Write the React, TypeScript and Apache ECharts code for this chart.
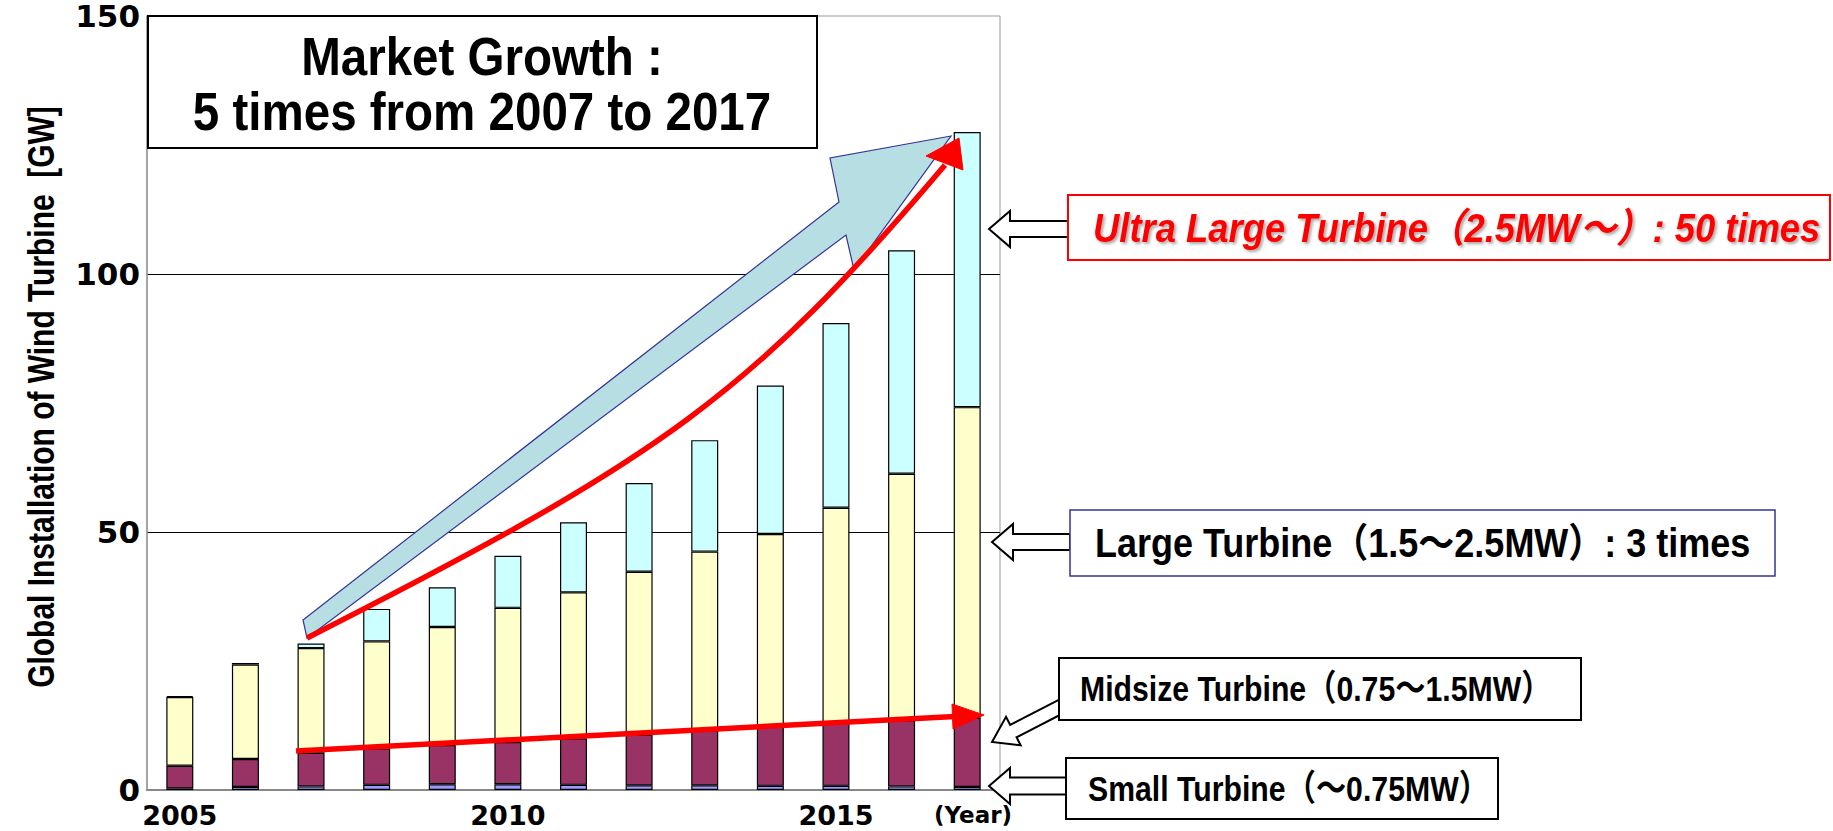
import React, { useEffect, useRef } from "react";
import * as echarts from "echarts";

const years = ["2005", "2006", "2007", "2008", "2009", "2010", "2011", "2012", "2013", "2014", "2015", "2016", "2017"];
const smallTurbine = [0.3, 0.6, 0.7, 1.0, 1.1, 1.1, 1.0, 0.9, 0.9, 0.8, 0.8, 0.7, 0.6];
const midsizeTurbine = [4.4, 5.4, 6.5, 7.1, 7.6, 8.2, 9.0, 9.8, 10.6, 11.6, 12.3, 12.8, 13.4];
const largeTurbine = [13.3, 18.3, 20.3, 20.7, 22.9, 26.0, 28.3, 31.6, 34.7, 37.2, 41.6, 47.8, 60.2];
const ultraLargeTurbine = [0.2, 0.3, 0.9, 6.3, 7.7, 10.1, 13.6, 17.2, 21.6, 28.8, 35.8, 43.3, 53.3];
const yMax = 150;
const yStep = 50;

const titleLines = ["Market Growth :", "5 times from 2007 to 2017"];
const yTitle = "Global Installation of Wind Turbine  [GW]";
const ultraLabel = "Ultra Large Turbine（2.5MW～）: 50 times";
const largeLabel = "Large Turbine（1.5～2.5MW）: 3 times";
const midLabel = "Midsize Turbine（0.75～1.5MW）";
const smallLabel = "Small Turbine（～0.75MW）";
const yearLabel = "(Year)";

const SANS = '"Liberation Sans", Arial, "Noto Sans CJK JP", sans-serif';
const WIDE = '"DejaVu Sans", Verdana, sans-serif';

function txt(x: number, y: number, text: string, opts: any = {}) {
  const {
    align = "center",
    size = 32,
    family = SANS,
    color = "#000",
    italic = false,
    rotation = 0,
    scaleX = 1,
    extra = {},
  } = opts;
  return {
    type: "text",
    x,
    y,
    rotation,
    scaleX,
    z: 120,
    style: {
      text,
      fill: color,
      fontSize: size,
      fontFamily: family,
      fontWeight: "bold",
      fontStyle: italic ? "italic" : "normal",
      align,
      verticalAlign: "middle",
      textAlign: align,
      textVerticalAlign: "middle",
      ...extra,
    },
  };
}

function box(x: number, y: number, w: number, h: number, stroke: string, lw = 2) {
  return {
    type: "rect",
    z: 110,
    shape: { x, y, width: w, height: h },
    style: { fill: "#fff", stroke, lineWidth: lw },
  };
}

function leftArrow(tipX: number, cy: number, headBack: number, tailX: number, headHalf: number, shaftHalf: number) {
  return {
    type: "polygon",
    z: 105,
    shape: {
      points: [
        [tipX, cy],
        [headBack, cy - headHalf],
        [headBack, cy - shaftHalf],
        [tailX, cy - shaftHalf],
        [tailX, cy + shaftHalf],
        [headBack, cy + shaftHalf],
        [headBack, cy + headHalf],
      ],
    },
    style: { fill: "#fff", stroke: "#000", lineWidth: 2 },
  };
}

export default function App() {
  const ref = useRef<HTMLDivElement>(null);
  useEffect(() => {
    document.body.style.margin = "0";
    if (!ref.current) return;
    const chart = echarts.init(ref.current, null, { renderer: "svg" });

    const barStyle = (color: string) => ({ color, borderColor: "#000", borderWidth: 1.2 });

    // midsize block arrow (diagonal)
    const tip = [992, 742];
    const tail = [1062, 706];
    const dx = tip[0] - tail[0];
    const dy = tip[1] - tail[1];
    const len = Math.hypot(dx, dy);
    const ux = dx / len, uy = dy / len;
    const nx = -uy, ny = ux;
    const hb = [tip[0] - 24 * ux, tip[1] - 24 * uy];
    const midArrowPts = [
      tip,
      [hb[0] + 16 * nx, hb[1] + 16 * ny],
      [hb[0] + 7 * nx, hb[1] + 7 * ny],
      [tail[0] + 7 * nx, tail[1] + 7 * ny],
      [tail[0] - 7 * nx, tail[1] - 7 * ny],
      [hb[0] - 7 * nx, hb[1] - 7 * ny],
      [hb[0] - 16 * nx, hb[1] - 16 * ny],
    ];

    const option: any = {
      animation: false,
      backgroundColor: "#fff",
      grid: {
        left: 147,
        right: 833,
        top: 16,
        bottom: 41,
        show: true,
        borderColor: "#999",
        borderWidth: 1,
        backgroundColor: "#fff",
      },
      xAxis: {
        type: "category",
        data: years,
        axisTick: { show: false },
        axisLine: { show: true, lineStyle: { color: "#888", width: 2 } },
        axisLabel: {
          interval: 4,
          color: "#000",
          fontFamily: WIDE,
          fontWeight: "bold",
          fontSize: 27,
          lineHeight: 26,
          margin: 12,
        },
      },
      yAxis: {
        type: "value",
        min: 0,
        max: yMax,
        interval: yStep,
        axisLine: { show: true, lineStyle: { color: "#999", width: 1.5 } },
        axisTick: { show: false },
        splitLine: {
          show: true,
          lineStyle: { color: ["rgba(0,0,0,0)", "#000", "#000", "rgba(0,0,0,0)"], width: 1.2 },
        },
        axisLabel: {
          color: "#000",
          fontFamily: WIDE,
          fontWeight: "bold",
          fontSize: 31,
          lineHeight: 24,
          margin: 7,
          padding: [3, 0, 0, 0],
        },
      },
      series: [
        { name: "Small", type: "bar", stack: "t", barWidth: 27, data: smallTurbine, itemStyle: barStyle("#9999ff") },
        { name: "Midsize", type: "bar", stack: "t", barWidth: 27, data: midsizeTurbine, itemStyle: barStyle("#993366") },
        { name: "Large", type: "bar", stack: "t", barWidth: 27, data: largeTurbine, itemStyle: barStyle("#ffffcc") },
        { name: "Ultra", type: "bar", stack: "t", barWidth: 27, data: ultraLargeTurbine, itemStyle: barStyle("#ccffff") },
      ],
      graphic: [
        // y axis title
        txt(41, 397, yTitle, { size: 37, scaleX: 0.81, rotation: Math.PI / 2 }),
        // year label
        txt(973, 815, yearLabel, { size: 23, family: WIDE }),
        // title box
        box(148, 16, 669, 132, "#000", 2),
        txt(482, 56, titleLines[0], { size: 54, scaleX: 0.88 }),
        txt(482, 111, titleLines[1], { size: 54, scaleX: 0.88 }),
        // blue growth arrow
        {
          type: "polygon",
          z: 100,
          shape: {
            points: [
              [303, 620],
              [839, 202],
              [830, 158],
              [951, 136],
              [854, 270],
              [846, 235],
              [307, 638],
            ],
          },
          style: { fill: "#b7dfe3", stroke: "#333399", lineWidth: 1.2 },
        },
        // red curved arrow
        {
          type: "bezierCurve",
          z: 101,
          shape: { x1: 307, y1: 638, cpx1: 664, cpy1: 457, cpx2: 751, cpy2: 394, x2: 945, y2: 165 },
          style: { stroke: "#ff0000", lineWidth: 5.5, fill: null },
        },
        {
          type: "polygon",
          z: 101,
          shape: { points: [[959, 138], [926, 156], [963, 170]] },
          style: { fill: "#ff0000", stroke: "#ff0000", lineWidth: 1 },
        },
        // red straight arrow
        {
          type: "line",
          z: 101,
          shape: { x1: 296, y1: 751, x2: 955, y2: 716.5 },
          style: { stroke: "#ff0000", lineWidth: 5.5 },
        },
        {
          type: "polygon",
          z: 101,
          shape: { points: [[984, 715], [952, 704], [953, 729]] },
          style: { fill: "#ff0000", stroke: "#ff0000", lineWidth: 1 },
        },
        // ultra callout
        leftArrow(989, 229, 1010, 1068, 18, 8),
        box(1068, 195, 762, 65, "#ff0000", 2),
        txt(1093, 228, ultraLabel, {
          align: "left",
          size: 40,
          scaleX: 0.91,
          color: "#ff0000",
          italic: true,
          extra: { textShadowColor: "rgba(0,0,0,0.35)", textShadowBlur: 3, textShadowOffsetX: 2, textShadowOffsetY: 2 },
        }),
        // large callout
        leftArrow(992, 542, 1013, 1070, 18, 8),
        box(1070, 510, 705, 66, "#333399", 1.5),
        txt(1095, 543, largeLabel, { align: "left", size: 40, scaleX: 0.9 }),
        // midsize callout
        {
          type: "polygon",
          z: 105,
          shape: { points: midArrowPts },
          style: { fill: "#fff", stroke: "#000", lineWidth: 2 },
        },
        box(1059, 658, 522, 62, "#000", 2),
        txt(1080, 689, midLabel, { align: "left", size: 36, scaleX: 0.84 }),
        // small callout
        leftArrow(989, 786, 1010, 1066, 18, 8.5),
        box(1066, 758, 432, 61, "#000", 2),
        txt(1088, 789, smallLabel, { align: "left", size: 36, scaleX: 0.84 }),
      ],
    };
    chart.setOption(option);
    return () => chart.dispose();
  }, []);
  return <div ref={ref} style={{ width: 1833, height: 831 }} />;
}
